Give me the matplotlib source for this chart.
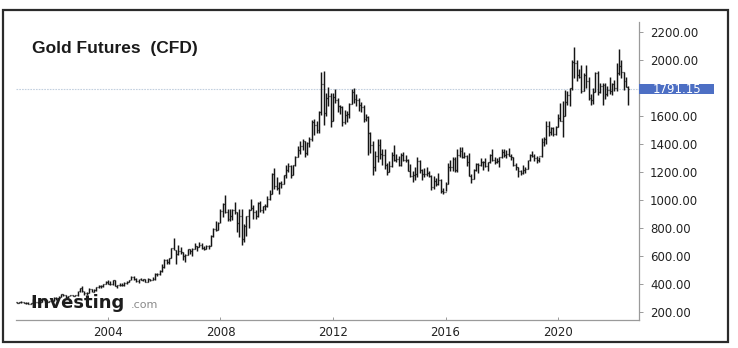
import matplotlib
matplotlib.use("Agg")
import matplotlib.pyplot as plt
import matplotlib.dates as mdates
from matplotlib.patches import Rectangle
from matplotlib.transforms import blended_transform_factory
import pandas as pd

# Monthly gold futures bars, Oct 2000 .. Jul 2022
first_month = "2000-10-01"

opens = [
    273.6, 264.5, 269.1,
    272.0, 265.6, 266.7, 258.0, 264.0, 267.5, 270.5, 266.0, 273.4, 293.5, 279.0, 275.0,
    279.0, 282.0, 297.0, 301.0, 309.0, 326.0, 318.0, 304.0, 312.0, 324.0, 317.0, 318.0,
    348.0, 368.0, 347.0, 336.0, 337.0, 364.0, 346.0, 354.0, 375.0, 388.0, 384.0, 398.0,
    417.0, 402.0, 397.0, 427.0, 388.0, 394.0, 395.0, 391.0, 410.0, 416.0, 429.0, 452.0,
    438.0, 422.0, 435.0, 428.0, 435.0, 417.0, 437.0, 430.0, 433.0, 473.0, 470.0, 496.0,
    518.0, 569.0, 557.0, 586.0, 654.0, 643.0, 616.0, 634.0, 626.0, 599.0, 605.0, 648.0,
    636.0, 651.0, 669.0, 663.0, 681.0, 659.0, 651.0, 668.0, 673.0, 743.0, 795.0, 783.0,
    838.0, 924.0, 973.0, 917.0, 865.0, 886.0, 930.0, 913.0, 833.0, 884.0, 718.0, 816.0,
    884.0, 928.0, 942.0, 916.0, 883.0, 979.0, 927.0, 955.0, 956.0, 1008.0, 1040.0, 1182.0,
    1097.0, 1083.0, 1119.0, 1113.0, 1179.0, 1214.0, 1245.0, 1181.0, 1248.0, 1309.0, 1358.0, 1384.0,
    1421.0, 1333.0, 1409.0, 1439.0, 1556.0, 1536.0, 1500.0, 1628.0, 1829.0, 1620.0, 1725.0, 1746.0,
    1566.0, 1738.0, 1711.0, 1669.0, 1664.0, 1560.0, 1604.0, 1614.0, 1687.0, 1773.0, 1720.0, 1713.0,
    1675.0, 1662.0, 1578.0, 1595.0, 1476.0, 1392.0, 1234.0, 1312.0, 1395.0, 1327.0, 1323.0, 1250.0,
    1202.0, 1240.0, 1321.0, 1283.0, 1295.0, 1250.0, 1322.0, 1282.0, 1287.0, 1210.0, 1171.0, 1175.0,
    1184.0, 1279.0, 1212.0, 1183.0, 1182.0, 1190.0, 1172.0, 1095.0, 1134.0, 1115.0, 1142.0, 1065.0,
    1060.0, 1116.0, 1237.0, 1233.0, 1293.0, 1215.0, 1321.0, 1350.0, 1309.0, 1316.0, 1272.0, 1173.0,
    1152.0, 1211.0, 1254.0, 1249.0, 1268.0, 1268.0, 1242.0, 1268.0, 1322.0, 1284.0, 1271.0, 1276.0,
    1309.0, 1345.0, 1318.0, 1327.0, 1316.0, 1305.0, 1253.0, 1233.0, 1206.0, 1196.0, 1215.0, 1223.0,
    1282.0, 1321.0, 1316.0, 1298.0, 1285.0, 1311.0, 1413.0, 1437.0, 1529.0, 1485.0, 1513.0, 1472.0,
    1523.0, 1589.0, 1567.0, 1597.0, 1700.0, 1751.0, 1800.0, 1986.0, 1978.0, 1895.0, 1879.0, 1780.0,
    1895.0, 1850.0, 1728.0, 1716.0, 1769.0, 1907.0, 1771.0, 1817.0, 1818.0, 1757.0, 1784.0, 1776.0,
    1829.0, 1797.0, 1909.0, 1954.0, 1911.0, 1848.0, 1807.0,
]

highs = [
    274.8, 270.5, 275.5,
    273.0, 270.5, 268.5, 266.0, 291.0, 275.0, 271.0, 280.0, 297.0, 294.0, 288.0, 282.0,
    289.0, 305.0, 305.0, 311.0, 327.0, 332.0, 324.0, 316.0, 325.0, 325.0, 323.0, 350.0,
    370.0, 389.0, 352.0, 340.0, 368.0, 366.0, 362.0, 377.0, 392.0, 392.0, 400.0, 418.0,
    428.0, 418.0, 429.0, 429.0, 395.0, 405.0, 410.0, 412.0, 418.0, 430.0, 456.0, 458.0,
    441.0, 438.0, 446.0, 438.0, 436.0, 443.0, 438.0, 449.0, 475.0, 478.0, 497.0, 541.0,
    575.0, 576.0, 587.0, 659.0, 732.0, 645.0, 680.0, 665.0, 630.0, 613.0, 652.0, 650.0,
    660.0, 691.0, 671.0, 697.0, 690.0, 670.0, 682.0, 679.0, 747.0, 797.0, 848.0, 840.0,
    936.0, 975.0, 1033.0, 937.0, 933.0, 934.0, 988.0, 916.0, 933.0, 936.0, 827.0, 887.0,
    933.0, 1007.0, 963.0, 931.0, 982.0, 992.0, 960.0, 971.0, 1025.0, 1070.0, 1195.0, 1227.0,
    1162.0, 1128.0, 1135.0, 1181.0, 1249.0, 1266.0, 1248.0, 1250.0, 1315.0, 1388.0, 1424.0, 1432.0,
    1424.0, 1413.0, 1448.0, 1570.0, 1577.0, 1561.0, 1633.0, 1917.0, 1923.0, 1764.0, 1804.0, 1763.0,
    1764.0, 1791.0, 1725.0, 1677.0, 1669.0, 1640.0, 1633.0, 1694.0, 1790.0, 1798.0, 1755.0, 1726.0,
    1697.0, 1680.0, 1617.0, 1600.0, 1488.0, 1424.0, 1348.0, 1434.0, 1433.0, 1362.0, 1362.0, 1267.0,
    1280.0, 1345.0, 1392.0, 1331.0, 1315.0, 1332.0, 1345.0, 1324.0, 1291.0, 1255.0, 1206.0, 1239.0,
    1307.0, 1283.0, 1224.0, 1225.0, 1232.0, 1206.0, 1175.0, 1170.0, 1157.0, 1191.0, 1148.0, 1089.0,
    1127.0, 1263.0, 1287.0, 1304.0, 1307.0, 1362.0, 1377.0, 1375.0, 1345.0, 1319.0, 1338.0, 1182.0,
    1221.0, 1264.0, 1261.0, 1297.0, 1275.0, 1297.0, 1272.0, 1330.0, 1362.0, 1306.0, 1300.0, 1310.0,
    1366.0, 1362.0, 1356.0, 1370.0, 1326.0, 1309.0, 1267.0, 1238.0, 1215.0, 1248.0, 1238.0, 1287.0,
    1327.0, 1350.0, 1325.0, 1311.0, 1308.0, 1442.0, 1453.0, 1566.0, 1567.0, 1521.0, 1519.0, 1528.0,
    1613.0, 1691.0, 1704.0, 1788.0, 1775.0, 1800.0, 2000.0, 2089.0, 2001.0, 1933.0, 1966.0, 1907.0,
    1962.0, 1875.0, 1756.0, 1797.0, 1917.0, 1919.0, 1834.0, 1832.0, 1837.0, 1814.0, 1877.0, 1832.0,
    1854.0, 1976.0, 2078.0, 2003.0, 1911.0, 1880.0, 1814.0,
]

lows = [
    263.9, 263.6, 267.1,
    262.5, 255.0, 255.8, 254.5, 263.0, 265.0, 263.0, 265.5, 271.5, 275.0, 272.0, 272.0,
    278.0, 281.0, 289.0, 300.0, 309.0, 315.0, 302.0, 302.0, 312.0, 313.0, 315.0, 317.0,
    345.0, 345.0, 323.0, 322.0, 336.0, 341.0, 342.0, 350.0, 370.0, 370.0, 378.0, 398.0,
    399.0, 391.0, 395.0, 386.0, 372.0, 384.0, 387.0, 389.0, 399.0, 414.0, 425.0, 432.0,
    417.0, 410.0, 425.0, 422.0, 414.0, 416.0, 418.0, 429.0, 432.0, 460.0, 465.0, 489.0,
    517.0, 540.0, 541.0, 585.0, 640.0, 543.0, 605.0, 611.0, 573.0, 560.0, 605.0, 612.0,
    603.0, 648.0, 636.0, 662.0, 651.0, 640.0, 648.0, 650.0, 670.0, 734.0, 780.0, 784.0,
    836.0, 880.0, 904.0, 852.0, 851.0, 854.0, 903.0, 774.0, 738.0, 681.0, 700.0, 746.0,
    801.0, 925.0, 865.0, 865.0, 881.0, 912.0, 905.0, 929.0, 952.0, 1002.0, 1040.0, 1075.0,
    1074.0, 1045.0, 1088.0, 1112.0, 1157.0, 1202.0, 1157.0, 1175.0, 1241.0, 1307.0, 1329.0, 1360.0,
    1309.0, 1323.0, 1380.0, 1421.0, 1462.0, 1478.0, 1480.0, 1604.0, 1535.0, 1603.0, 1670.0, 1523.0,
    1563.0, 1690.0, 1627.0, 1612.0, 1527.0, 1545.0, 1556.0, 1585.0, 1685.0, 1694.0, 1673.0, 1636.0,
    1626.0, 1555.0, 1563.0, 1321.0, 1338.0, 1180.0, 1207.0, 1272.0, 1292.0, 1251.0, 1221.0, 1181.0,
    1202.0, 1238.0, 1277.0, 1268.0, 1240.0, 1240.0, 1280.0, 1271.0, 1204.0, 1161.0, 1131.0, 1142.0,
    1167.0, 1191.0, 1142.0, 1167.0, 1170.0, 1162.0, 1072.0, 1077.0, 1098.0, 1106.0, 1052.0, 1046.0,
    1062.0, 1111.0, 1208.0, 1209.0, 1199.0, 1200.0, 1310.0, 1303.0, 1301.0, 1241.0, 1171.0, 1124.0,
    1147.0, 1206.0, 1195.0, 1243.0, 1214.0, 1236.0, 1204.0, 1267.0, 1279.0, 1260.0, 1265.0, 1237.0,
    1303.0, 1307.0, 1303.0, 1311.0, 1282.0, 1245.0, 1211.0, 1167.0, 1180.0, 1183.0, 1196.0, 1221.0,
    1277.0, 1310.0, 1281.0, 1267.0, 1269.0, 1309.0, 1382.0, 1400.0, 1459.0, 1464.0, 1455.0, 1461.0,
    1518.0, 1562.0, 1451.0, 1597.0, 1680.0, 1671.0, 1785.0, 1874.0, 1851.0, 1873.0, 1764.0, 1776.0,
    1802.0, 1717.0, 1677.0, 1683.0, 1769.0, 1750.0, 1761.0, 1677.0, 1721.0, 1746.0, 1759.0, 1753.0,
    1780.0, 1781.0, 1890.0, 1872.0, 1786.0, 1805.0, 1681.0,
]

closes = [
    264.5, 269.1, 272.0,
    265.6, 266.7, 258.0, 264.0, 267.5, 270.5, 266.0, 273.4, 293.5, 279.0, 275.0, 279.0,
    282.0, 297.0, 301.0, 309.0, 326.0, 318.0, 304.0, 312.0, 324.0, 317.0, 318.0, 348.0,
    368.0, 347.0, 336.0, 337.0, 364.0, 346.0, 354.0, 375.0, 388.0, 384.0, 398.0, 417.0,
    402.0, 397.0, 427.0, 388.0, 394.0, 395.0, 391.0, 410.0, 416.0, 429.0, 452.0, 438.0,
    422.0, 435.0, 428.0, 435.0, 417.0, 437.0, 430.0, 433.0, 473.0, 470.0, 496.0, 518.0,
    569.0, 557.0, 586.0, 654.0, 643.0, 616.0, 634.0, 626.0, 599.0, 605.0, 648.0, 636.0,
    651.0, 669.0, 663.0, 681.0, 659.0, 651.0, 668.0, 673.0, 743.0, 795.0, 783.0, 838.0,
    924.0, 973.0, 917.0, 865.0, 886.0, 930.0, 913.0, 833.0, 884.0, 718.0, 816.0, 884.0,
    928.0, 942.0, 916.0, 883.0, 979.0, 927.0, 955.0, 956.0, 1008.0, 1040.0, 1182.0, 1097.0,
    1083.0, 1119.0, 1113.0, 1179.0, 1214.0, 1245.0, 1181.0, 1248.0, 1309.0, 1358.0, 1384.0, 1421.0,
    1333.0, 1409.0, 1439.0, 1556.0, 1536.0, 1500.0, 1628.0, 1829.0, 1620.0, 1725.0, 1746.0, 1566.0,
    1738.0, 1711.0, 1669.0, 1664.0, 1560.0, 1604.0, 1614.0, 1687.0, 1773.0, 1720.0, 1713.0, 1675.0,
    1662.0, 1578.0, 1595.0, 1476.0, 1392.0, 1234.0, 1312.0, 1395.0, 1327.0, 1323.0, 1250.0, 1202.0,
    1240.0, 1321.0, 1283.0, 1295.0, 1250.0, 1322.0, 1282.0, 1287.0, 1210.0, 1171.0, 1175.0, 1184.0,
    1279.0, 1212.0, 1183.0, 1182.0, 1190.0, 1172.0, 1095.0, 1134.0, 1115.0, 1142.0, 1065.0, 1060.0,
    1116.0, 1237.0, 1233.0, 1293.0, 1215.0, 1321.0, 1350.0, 1309.0, 1316.0, 1272.0, 1173.0, 1152.0,
    1211.0, 1254.0, 1249.0, 1268.0, 1268.0, 1242.0, 1268.0, 1322.0, 1284.0, 1271.0, 1276.0, 1309.0,
    1345.0, 1318.0, 1327.0, 1316.0, 1305.0, 1253.0, 1233.0, 1206.0, 1196.0, 1215.0, 1223.0, 1282.0,
    1321.0, 1316.0, 1298.0, 1285.0, 1311.0, 1413.0, 1437.0, 1529.0, 1485.0, 1513.0, 1472.0, 1523.0,
    1589.0, 1567.0, 1597.0, 1700.0, 1751.0, 1800.0, 1986.0, 1978.0, 1895.0, 1879.0, 1780.0, 1895.0,
    1850.0, 1728.0, 1716.0, 1769.0, 1907.0, 1771.0, 1817.0, 1818.0, 1757.0, 1784.0, 1776.0, 1829.0,
    1797.0, 1909.0, 1954.0, 1911.0, 1848.0, 1807.0, 1791.15,
]

last_price = 1791.15
price_ticks = [200, 400, 600, 800, 1000, 1200, 1400, 1600, 1800, 2000, 2200]
year_ticks = [2004, 2008, 2012, 2016, 2020]
title = "Gold Futures  (CFD)"

W, H = 738, 348
fig = plt.figure(figsize=(W / 100, H / 100), dpi=100)
fig.patch.set_facecolor("white")

# outer frame around the whole chart
fig.patches.append(Rectangle((3 / W, 6 / H), 725 / W, 332 / H, transform=fig.transFigure,
                             fill=False, edgecolor="#2b2b2b", linewidth=1.6))

ax = fig.add_axes([16 / W, 28 / H, 623 / W, 298 / H])
ax.set_facecolor("white")

dates = mdates.date2num(pd.date_range(first_month, periods=len(closes), freq="MS"))
tick_len = 12  # days, half-width of open/close ticks
bar_color = "#151515"
ax.vlines(dates, lows, highs, color=bar_color, linewidth=1.05)
ax.hlines(opens, dates - tick_len, dates, color=bar_color, linewidth=0.9)
ax.hlines(closes, dates, dates + tick_len, color=bar_color, linewidth=0.9)

# x range: 112.5 px per four years, Jan 2004 at pixel 108
px_per_day = 112.5 / 1461.0
x2004 = mdates.date2num(pd.Timestamp("2004-01-01"))
ax.set_xlim(x2004 - 92 / px_per_day, x2004 + 531 / px_per_day)
ax.set_ylim(142.9, 2271)

# last price guide line and tag (the tag takes the place of the 1800 label)
ax.axhline(last_price, color="#c3d0df", linewidth=0.8, linestyle=(0, (1.5, 1.0)), zorder=0)
tr = blended_transform_factory(ax.transAxes, ax.transData)
ax.add_patch(Rectangle((1.0, last_price - 35), 75 / 623, 70, transform=tr,
                       facecolor="#4d6fc4", edgecolor="none", clip_on=False, zorder=5))
ax.text(1.0 + 37.5 / 623, last_price, f"{last_price:.2f}", transform=tr, color="white",
        ha="center", va="center", fontsize=8.5, family="DejaVu Sans", zorder=6)

# axes styling
for side in ("left", "top"):
    ax.spines[side].set_visible(False)
for side in ("right", "bottom"):
    ax.spines[side].set_color("#9a9a9a")
    ax.spines[side].set_linewidth(0.9)

ax.yaxis.tick_right()
ax.set_yticks(price_ticks)
ax.set_yticklabels(["" if v == 1800 else f"{v:.2f}" for v in price_ticks])
ax.tick_params(axis="y", direction="out", length=3, width=0.7, color="#9a9a9a",
               pad=5, labelsize=8.5, labelcolor="#222222")
ax.set_xticks([mdates.date2num(pd.Timestamp(f"{y}-01-01")) for y in year_ticks])
ax.set_xticklabels([str(y) for y in year_ticks])
ax.tick_params(axis="x", direction="in", length=2, width=0.7, color="#9a9a9a",
               pad=4, labelsize=8.5, labelcolor="#222222")
for lbl in ax.get_xticklabels() + ax.get_yticklabels():
    lbl.set_family("DejaVu Sans")

# title and watermark
fig.text(32 / W, 1 - 48.5 / H, title, ha="left", va="center", fontsize=12.5,
         fontweight="bold", family="Liberation Sans", color="#1a1a1a")
fig.text(30 / W, 1 - 308 / H, "Investing", ha="left", va="baseline", fontsize=13,
         fontweight="bold", family="DejaVu Sans", color="#1c1c1c")
fig.text(131 / W, 1 - 308 / H, ".com", ha="left", va="baseline", fontsize=8,
         family="DejaVu Sans", color="#8a8a8a")

fig.savefig("out.png", dpi=100, facecolor="white")
